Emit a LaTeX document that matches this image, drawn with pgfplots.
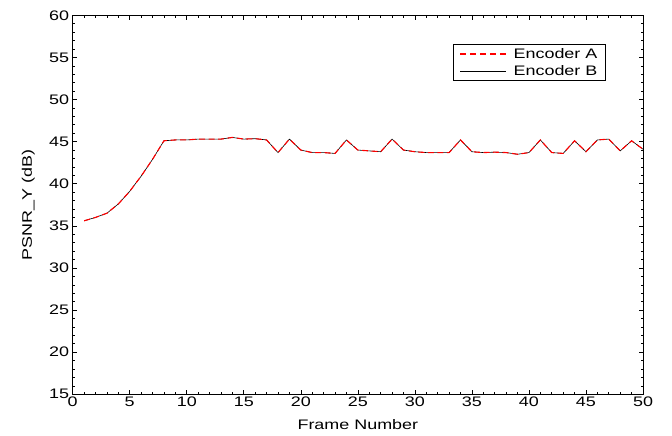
\documentclass[border=0pt]{standalone}
\usepackage{pgfplots}
\pgfplotsset{compat=1.18}
\usepackage{fontspec}
\setmainfont{Liberation Sans}[FakeStretch=1.3]
\pgfplotstableread{
x a
1 35.6
2 36.0
3 36.5
4 37.6
5 39.1
6 40.9
7 42.9
8 45.1
9 45.2
10 45.2
11 45.3
12 45.3
13 45.3
14 45.5
15 45.3
16 45.35
17 45.2
18 43.7
19 45.3
20 44.0
21 43.7
22 43.7
23 43.6
24 45.2
25 44.0
26 43.9
27 43.8
28 45.3
29 44.0
30 43.8
31 43.7
32 43.7
33 43.7
34 45.2
35 43.8
36 43.7
37 43.75
38 43.7
39 43.5
40 43.7
41 45.2
42 43.7
43 43.6
44 45.1
45 43.8
46 45.2
47 45.3
48 43.9
49 45.1
50 44.1
}\dataA
\begin{document}
\begin{tikzpicture}
\useasboundingbox (-72.7pt,-41pt) rectangle (599.3pt,394.3pt);
\begin{axis}[
  at={(0pt,0pt)}, anchor=south west,
  scale only axis,
  width=570.3pt, height=379pt,
  xmin=0, xmax=50, ymin=15, ymax=60,
  xtick={0,5,...,50}, ytick={15,20,...,60},
  minor tick num=4,
  tick align=inside,
  major tick length=4.5pt, minor tick length=2.5pt,
  tick style={black, line width=0.6pt},
  axis line style={black, line width=0.8pt},
  tick label style={font=\fontsize{13.8}{15}\selectfont},
  xticklabel style={yshift=1pt},
  /pgf/number format/assume math mode=true,
  xlabel={Frame Number}, ylabel={PSNR\_Y (dB)},
  label style={font=\fontsize{13.8}{15}\selectfont},
  xlabel style={at={(axis description cs:0.5,-0.079)}, anchor=center},
  ylabel style={at={(axis description cs:-0.078,0.5)}, anchor=center},
  legend style={at={(axis description cs:0.9346,0.923)}, anchor=north east,
    draw=black, line width=0.6pt, fill=white, font=\fontsize{13.8}{15}\selectfont,
    row sep=1.5pt, column sep=5pt, inner xsep=6pt, inner ysep=1.5pt,
    nodes={inner sep=2pt}},
  legend cell align=left,
]
\addlegendimage{legend image code/.code={\draw[red, line width=1.2pt, dash pattern=on 6pt off 4pt] (0pt,0pt) -- (46pt,0pt);}}
\addlegendentry{Encoder A}
\addlegendimage{legend image code/.code={\draw[black, line width=0.6pt] (0pt,0pt) -- (46pt,0pt);}}
\addlegendentry{Encoder B}
\addplot[black, line width=0.6pt, forget plot] table[x=x,y=a] {\dataA};
\addplot[red, line width=1.1pt, dash pattern=on 6pt off 3.5pt, forget plot] table[x=x,y=a] {\dataA};
\end{axis}
\end{tikzpicture}
\end{document}
